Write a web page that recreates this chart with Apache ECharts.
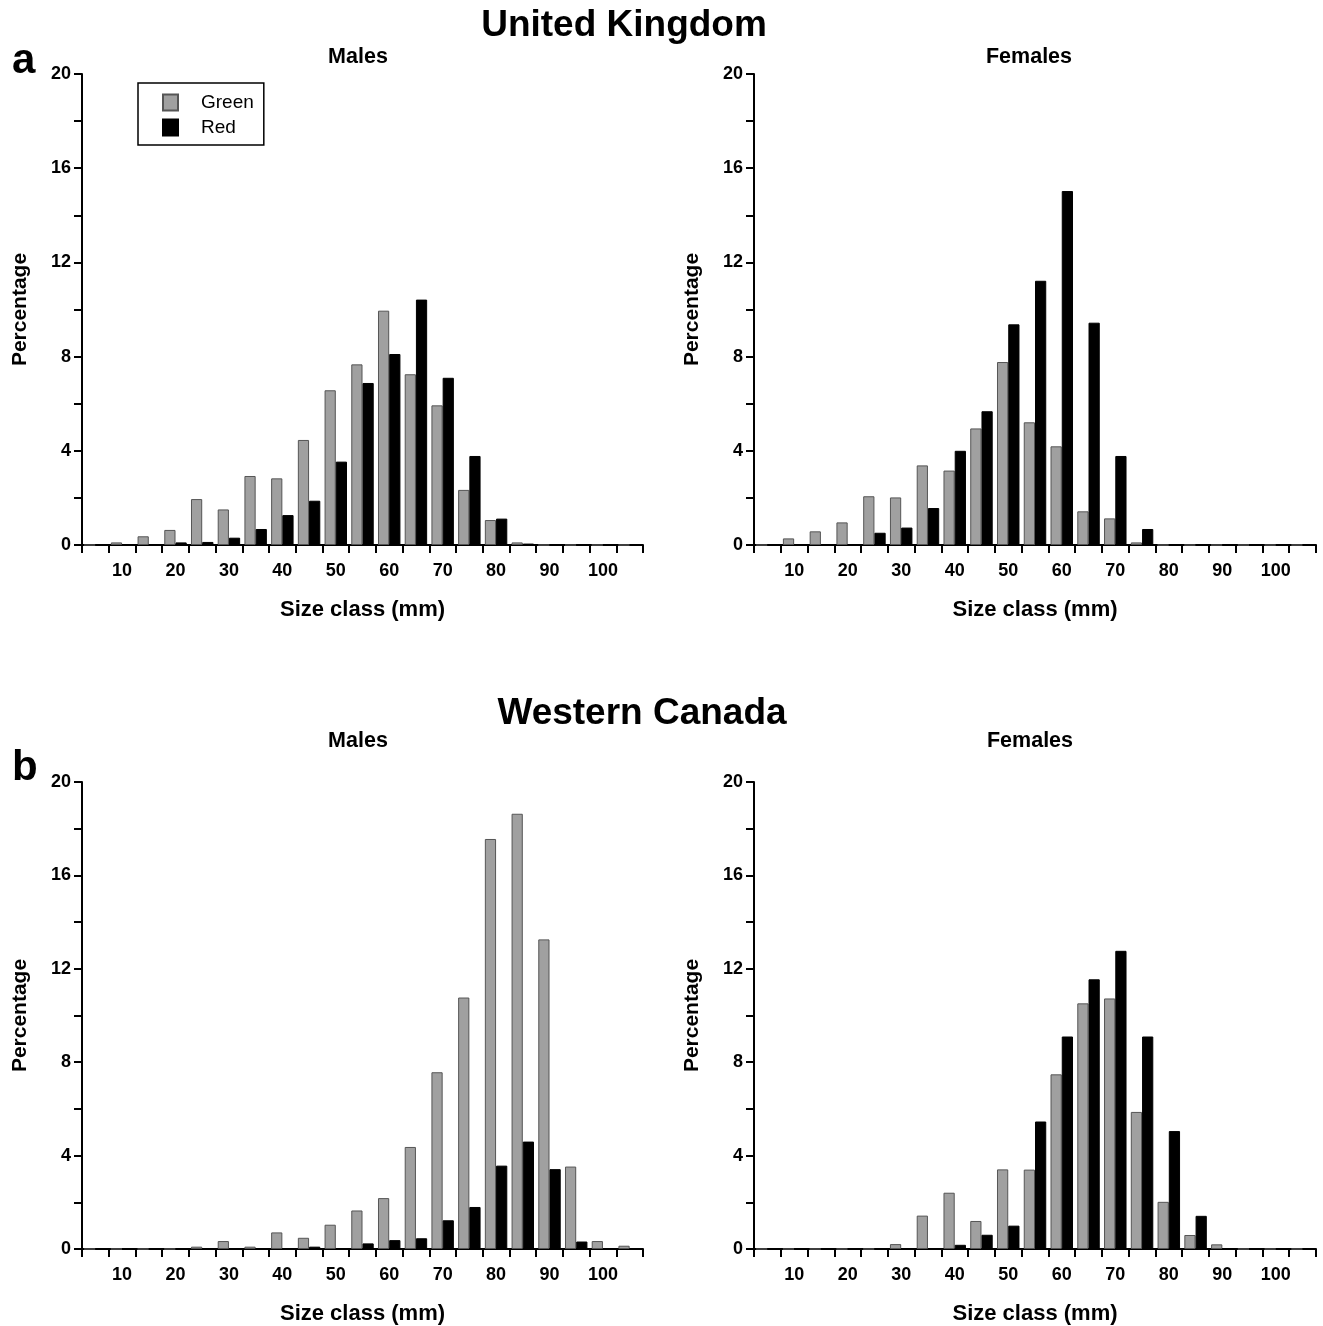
<!DOCTYPE html>
<html>
<head>
<meta charset="utf-8">
<script src="https://cdn.jsdelivr.net/npm/echarts@6/dist/echarts.min.js"></script>
<style>
html,body{margin:0;padding:0;background:#fff;}
#chart{width:1323px;height:1326px;}
</style>
</head>
<body>
<div id="chart"></div>
<script>
// Size classes (mm)
var categories = ['5','10','15','20','25','30','35','40','45','50','55','60','65','70','75','80','85','90','95','100','105'];
var yTicks = [0, 4, 8, 12, 16, 20];

// United Kingdom – Males
var ukMalesGreen = [0, 0.11, 0.37, 0.64, 1.95, 1.51, 2.93, 2.83, 4.46, 6.57, 7.67, 9.95, 7.25, 5.93, 2.34, 1.06, 0.11, 0, 0, 0, 0];
var ukMalesRed   = [0, 0, 0, 0.11, 0.13, 0.31, 0.68, 1.27, 1.88, 3.54, 6.88, 8.11, 10.42, 7.10, 3.78, 1.12, 0.06, 0, 0, 0, 0];
// United Kingdom – Females
var ukFemalesGreen = [0, 0.28, 0.58, 0.96, 2.07, 2.02, 3.38, 3.16, 4.95, 7.77, 5.21, 4.19, 1.43, 1.13, 0.11, 0, 0, 0, 0, 0, 0];
var ukFemalesRed   = [0, 0, 0, 0, 0.52, 0.74, 1.57, 4.00, 5.68, 9.37, 11.22, 15.03, 9.44, 3.78, 0.68, 0, 0, 0, 0, 0, 0];
// Western Canada – Males
var wcMalesGreen = [0, 0, 0, 0, 0.10, 0.34, 0.10, 0.71, 0.48, 1.04, 1.65, 2.18, 4.37, 7.57, 10.77, 17.56, 18.64, 13.26, 3.53, 0.34, 0.14];
var wcMalesRed   = [0, 0, 0, 0, 0, 0, 0, 0, 0.10, 0, 0.24, 0.38, 0.46, 1.23, 1.80, 3.57, 4.60, 3.42, 0.32, 0, 0];
// Western Canada – Females
var wcFemalesGreen = [0, 0, 0, 0, 0, 0.21, 1.43, 2.41, 1.20, 3.41, 3.40, 7.48, 10.52, 10.73, 5.87, 2.02, 0.60, 0.20, 0, 0, 0];
var wcFemalesRed   = [0, 0, 0, 0, 0, 0, 0, 0.18, 0.61, 1.00, 5.46, 9.10, 11.55, 12.77, 9.10, 5.05, 1.42, 0, 0, 0, 0];

var FONT = "'Liberation Sans', Arial, Helvetica, sans-serif";

var panels = [
  {left: 82,  top: 74,  width: 561, height: 471, green: ukMalesGreen,   red: ukMalesRed},
  {left: 754, top: 74,  width: 562, height: 471, green: ukFemalesGreen, red: ukFemalesRed},
  {left: 82,  top: 782, width: 561, height: 470, green: wcMalesGreen,   red: wcMalesRed},
  {left: 754, top: 782, width: 562, height: 470, green: wcFemalesGreen, red: wcFemalesRed}
];

var grids = [], xAxes = [], yAxes = [], series = [];
panels.forEach(function (p, i) {
  grids.push({left: p.left, top: p.top, width: p.width, height: p.height, containLabel: false});
  xAxes.push({
    type: 'category', gridIndex: i, data: categories, boundaryGap: true,
    name: 'Size class (mm)', nameLocation: 'middle', nameGap: 54,
    nameTextStyle: {fontFamily: FONT, fontWeight: 'bold', fontSize: 22, color: '#000'},
    axisLine: {lineStyle: {color: '#000', width: 2}},
    axisTick: {show: true, interval: 0, length: 8, lineStyle: {color: '#000', width: 2}},
    axisLabel: {interval: function (idx) { return idx % 2 === 1; }, margin: 17,
      fontFamily: FONT, fontWeight: 'bold', fontSize: 18, color: '#000'},
    splitLine: {show: false}
  });
  yAxes.push({
    type: 'value', gridIndex: i, min: 0, max: 20, interval: 2,
    name: 'Percentage', nameLocation: 'middle', nameGap: 51, nameRotate: 90,
    nameTextStyle: {fontFamily: FONT, fontWeight: 'bold', fontSize: 21, color: '#000'},
    axisLine: {show: true, lineStyle: {color: '#000', width: 2}},
    axisTick: {show: true, length: 8, lineStyle: {color: '#000', width: 2}},
    axisLabel: {margin: 11, fontFamily: FONT, fontWeight: 'bold', fontSize: 18, color: '#000',
      formatter: function (v) { return yTicks.indexOf(v) >= 0 ? String(v) : ''; }},
    splitLine: {show: false}
  });
  series.push({
    name: 'Green', type: 'bar', xAxisIndex: i, yAxisIndex: i, data: p.green,
    barGap: '0%', barCategoryGap: '16%',
    itemStyle: {color: '#a0a0a0', borderColor: '#555', borderWidth: 1}
  });
  series.push({
    name: 'Red', type: 'bar', xAxisIndex: i, yAxisIndex: i, data: p.red,
    barGap: '0%', barCategoryGap: '16%',
    itemStyle: {color: '#000', borderColor: '#000', borderWidth: 1}
  });
});

function txt(text, x, y, size, align) {
  return {type: 'text', x: x, y: y, silent: true,
    style: {text: text, fontFamily: FONT, fontWeight: 'bold', fontSize: size, fill: '#000',
      align: align || 'center', verticalAlign: 'middle'}};
}

var chart = echarts.init(document.getElementById('chart'), null, {renderer: 'canvas'});
chart.setOption({
  animation: false,
  backgroundColor: '#fff',
  grid: grids,
  xAxis: xAxes,
  yAxis: yAxes,
  series: series,
  legend: {
    show: true, orient: 'vertical', left: 138, top: 83,
    data: ['Green', 'Red'],
    icon: 'rect', itemWidth: 15, itemHeight: 16, itemGap: 6,
    padding: [10, 10, 8, 24],
    borderColor: '#000', borderWidth: 1.5, backgroundColor: '#fff',
    textStyle: {fontFamily: FONT, fontSize: 19, color: '#000', padding: [3, 0, 0, 18]}
  },
  graphic: [
    txt('United Kingdom', 624, 26, 37),
    txt('a', 12, 61, 42, 'left'),
    txt('Males', 358, 57, 21.5),
    txt('Females', 1029, 57, 21.5),
    txt('Western Canada', 642, 714, 37),
    txt('b', 12, 768, 42, 'left'),
    txt('Males', 358, 741, 21.5),
    txt('Females', 1030, 741, 21.5)
  ]
});
</script>
</body>
</html>
